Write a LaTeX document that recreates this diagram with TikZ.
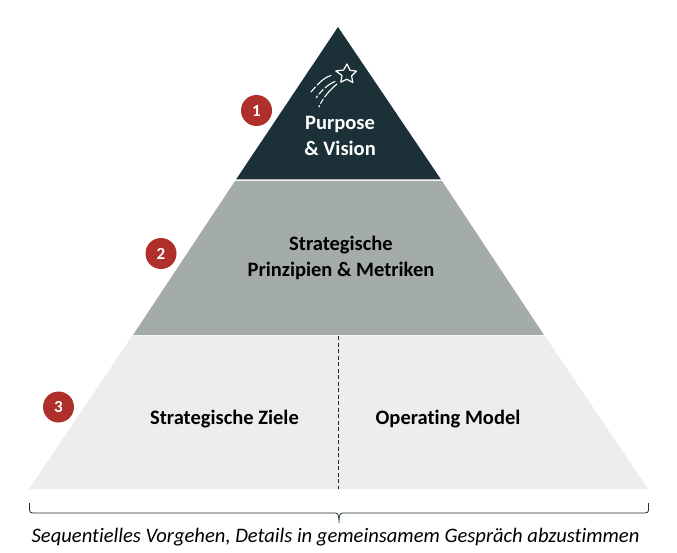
\documentclass[tikz,border=0pt]{standalone}
\usepackage{fontspec}
\setmainfont[Ligatures=CommonOff]{Carlito}
\definecolor{darkc}{HTML}{1B3037}
\definecolor{midc}{HTML}{A4ACAA}
\definecolor{lightc}{HTML}{ECEEED}
\definecolor{redc}{HTML}{AF2F2A}
\tikzset{
  lab/.style={font=\fontsize{20.5}{26}\selectfont\bfseries,align=center,text=black,inner sep=0pt},
  badge/.style={circle,fill=redc,minimum size=31pt,inner sep=0pt,text=white,font=\fontsize{17}{17}\selectfont\bfseries},
  streak/.style={draw=white,line width=1.1pt,line cap=round},
}
\begin{document}
\begin{tikzpicture}[x=1pt,y=-1pt]
\useasboundingbox (0,0) rectangle (677,553);
\fill[darkc] (338,27) -- (441,179.5) -- (236,179.5) -- cycle;
\fill[midc] (235,181) -- (442,181) -- (544,335) -- (133,335) -- cycle;
\fill[lightc] (132,336) -- (545,336) -- (648,489) -- (29,489) -- cycle;
\coordinate (divtop) at (338.5,336);
\coordinate (divbot) at (338.5,489);
\draw[black!85,line width=0.7pt,dash pattern=on 4pt off 2.5pt] (divtop) -- (divbot);
% shooting star
\draw[draw=white,line width=1.2pt,line join=round]
  (347.0,64) -- (349.9,70.2) -- (356.5,71.2) -- (351.6,75.8) -- (352.8,82.5)
  -- (346.8,79.2) -- (340.8,82.2) -- (342.0,75.5) -- (335.8,71) -- (343.6,70) -- cycle;
\draw[streak,dash pattern=on 17pt off 2.5pt on 8pt off 2.5pt on 2pt off 2.5pt on 1pt off 20pt] (331,75.5) .. controls (323,78) and (318,84) .. (311,92);
\draw[streak,dash pattern=on 12pt off 2.5pt on 6pt off 2.5pt on 2pt off 20pt] (335,81.5) .. controls (327,85) and (322,90) .. (316,98);
\draw[streak,dash pattern=on 18pt off 2.5pt on 5pt off 2.5pt on 1.5pt off 20pt] (337,84) .. controls (330,90) and (323,97) .. (318,109);
\node[lab,text=white] (n1) at (340,135.5) {Purpose\\\& Vision};
\node[lab] (n2) at (341,258) {Strategische\\Prinzipien \& Metriken};
\node[lab] (n3) at (224.5,419) {Strategische Ziele};
\node[lab] (n4) at (448,419) {Operating Model};
\node[badge] (b1) at (256.5,110.5) {1};
\node[badge] (b2) at (161,253.5) {2};
\node[badge] (b3) at (58.5,407) {3};
\coordinate (bl) at (29.5,503);
\coordinate (br) at (648.5,503);
\coordinate (bt) at (339,523);
\draw[darkc,line width=0.8pt,line join=round] (bl) -- (29.5,510) .. controls (29.5,512) and (30.5,513) .. (33,513)
  -- (335,513) .. controls (338,513) and (339,515) .. (bt)
  (bt) .. controls (339,515) and (340,513) .. (343,513) -- (645,513) .. controls (647.5,513) and (648.5,512) .. (648.5,510) -- (br);
\node[inner sep=0pt,font=\fontsize{20.6}{22}\selectfont\itshape,text=black] (cap) at (335.5,537.5) {Sequentielles Vorgehen, Details in gemeinsamem Gespräch abzustimmen};
\end{tikzpicture}
\end{document}
